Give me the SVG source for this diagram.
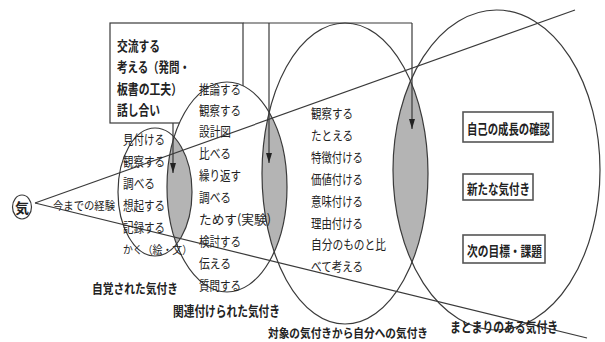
<svg xmlns="http://www.w3.org/2000/svg" width="605" height="342" viewBox="0 0 605 342">
<style>
.t{font-family:"Noto Sans CJK JP","Noto Sans CJK SC",sans-serif;font-size:13px;fill:#222}
.b{font-weight:bold;font-size:13.5px}
.bx{font-size:13.5px;font-weight:bold}
.ln{stroke:#3a3a3a;stroke-width:1.2;fill:none}
.wf{fill:#fff;stroke:none}
.lens{fill:#b4b4b4;stroke:none}
.rb{fill:#fff;stroke:#555;stroke-width:1.6}
</style>
<defs>
<marker id="ah" viewBox="0 0 10 10" refX="10" refY="5" markerWidth="10" markerHeight="6" markerUnits="userSpaceOnUse" orient="auto" preserveAspectRatio="none"><path d="M0,0 L10,5 L0,10 z" fill="#222"/></marker>
<clipPath id="c2"><ellipse cx="227" cy="187" rx="60" ry="105"/></clipPath>
<clipPath id="c3"><ellipse cx="345" cy="173.5" rx="83" ry="150.5"/></clipPath>
<clipPath id="c4"><ellipse cx="496.5" cy="170" rx="103.5" ry="160"/></clipPath>
</defs>
<rect x="0" y="0" width="605" height="342" fill="#fff"/>
<g id="box">
<rect x="110" y="23" width="133" height="100" class="ln"/>
</g>
<g id="fills">
<ellipse cx="496.5" cy="170" rx="103.5" ry="160" class="wf"/>
<ellipse cx="345" cy="173.5" rx="83" ry="150.5" class="wf"/>
<ellipse cx="227" cy="187" rx="60" ry="105" class="wf"/>
<ellipse cx="155" cy="192" rx="37" ry="64" class="wf"/>
<ellipse cx="155" cy="192" rx="37" ry="64" class="lens" clip-path="url(#c2)"/>
<ellipse cx="227" cy="187" rx="60" ry="105" class="lens" clip-path="url(#c3)"/>
<ellipse cx="345" cy="173.5" rx="83" ry="150.5" class="lens" clip-path="url(#c4)"/>
</g>
<g id="ellipse1"><ellipse cx="155" cy="192" rx="37" ry="64" class="ln"/></g>
<g id="ellipse2"><ellipse cx="227" cy="187" rx="60" ry="105" class="ln"/></g>
<g id="ellipse3"><ellipse cx="345" cy="173.5" rx="83" ry="150.5" class="ln"/></g>
<g id="ellipse4"><ellipse cx="496.5" cy="170" rx="103.5" ry="160" class="ln"/></g>
<g id="connectors">
<polyline points="243,23 412,23" class="ln"/>
<line x1="173" y1="123" x2="173" y2="173" class="ln" marker-end="url(#ah)"/>
<line x1="269" y1="23" x2="269" y2="163" class="ln" marker-end="url(#ah)"/>
<line x1="412" y1="23" x2="412" y2="129" class="ln" marker-end="url(#ah)"/>
<line x1="35" y1="203" x2="575" y2="10" class="ln"/>
<line x1="35" y1="203" x2="587" y2="338" class="ln"/>
</g>
<g id="ki">
<ellipse cx="22" cy="207" rx="9.5" ry="12" class="ln"/>
<text x="22" y="212.5" class="t b" text-anchor="middle" style="font-size:14px">気</text>
</g>
<g id="boxtext">
<text x="117" y="51" class="t bx" textLength="43" lengthAdjust="spacingAndGlyphs">交流する</text>
<text x="117" y="72" class="t bx" textLength="73" lengthAdjust="spacingAndGlyphs">考える（発問・</text>
<text x="117" y="94" class="t bx" textLength="65" lengthAdjust="spacingAndGlyphs">板書の工夫）</text>
<text x="117" y="115" class="t bx" textLength="43" lengthAdjust="spacingAndGlyphs">話し合い</text>
</g>
<g id="list1">
<text x="53" y="210" class="t" style="font-size:11.5px" textLength="62" lengthAdjust="spacingAndGlyphs">今までの経験</text>
<text x="123" y="144" class="t" textLength="42" lengthAdjust="spacingAndGlyphs">見付ける</text>
<text x="123" y="166" class="t" textLength="42" lengthAdjust="spacingAndGlyphs">観察する</text>
<text x="123" y="188" class="t" textLength="32" lengthAdjust="spacingAndGlyphs">調べる</text>
<text x="123" y="210" class="t" textLength="42" lengthAdjust="spacingAndGlyphs">想起する</text>
<text x="123" y="232" class="t" textLength="42" lengthAdjust="spacingAndGlyphs">記録する</text>
<text x="123" y="254" class="t" style="font-size:10.8px" textLength="69" lengthAdjust="spacingAndGlyphs">かく（絵・文）</text>
</g>
<g id="list2">
<text x="199" y="94" class="t" textLength="42" lengthAdjust="spacingAndGlyphs">推論する</text>
<text x="199" y="115" class="t" textLength="42" lengthAdjust="spacingAndGlyphs">観察する</text>
<text x="199" y="136" class="t" textLength="32" lengthAdjust="spacingAndGlyphs">設計図</text>
<text x="199" y="158" class="t" textLength="32" lengthAdjust="spacingAndGlyphs">比べる</text>
<text x="199" y="180" class="t" textLength="42" lengthAdjust="spacingAndGlyphs">繰り返す</text>
<text x="199" y="202" class="t" textLength="32" lengthAdjust="spacingAndGlyphs">調べる</text>
<text x="199" y="224" class="t" textLength="72" lengthAdjust="spacingAndGlyphs">ためす(実験)</text>
<text x="199" y="246" class="t" textLength="42" lengthAdjust="spacingAndGlyphs">検討する</text>
<text x="199" y="268" class="t" textLength="32" lengthAdjust="spacingAndGlyphs">伝える</text>
<text x="199" y="290" class="t" textLength="42" lengthAdjust="spacingAndGlyphs">質問する</text>
</g>
<g id="list3">
<text x="311" y="118" class="t" textLength="42" lengthAdjust="spacingAndGlyphs">観察する</text>
<text x="311" y="140" class="t" textLength="42" lengthAdjust="spacingAndGlyphs">たとえる</text>
<text x="311" y="162" class="t" textLength="52" lengthAdjust="spacingAndGlyphs">特徴付ける</text>
<text x="311" y="184" class="t" textLength="52" lengthAdjust="spacingAndGlyphs">価値付ける</text>
<text x="311" y="206" class="t" textLength="52" lengthAdjust="spacingAndGlyphs">意味付ける</text>
<text x="311" y="228" class="t" textLength="52" lengthAdjust="spacingAndGlyphs">理由付ける</text>
<text x="311" y="249" class="t" textLength="75" lengthAdjust="spacingAndGlyphs">自分のものと比</text>
<text x="311" y="271" class="t" textLength="52" lengthAdjust="spacingAndGlyphs">べて考える</text>
</g>
<g id="rbox1"><rect x="463" y="112" width="90" height="30" class="rb"/><text x="467" y="134" class="t b" textLength="83" lengthAdjust="spacingAndGlyphs">自己の成長の確認</text></g>
<g id="rbox2"><rect x="463" y="174" width="70" height="26" class="rb"/><text x="467" y="194" class="t b" textLength="63" lengthAdjust="spacingAndGlyphs">新たな気付き</text></g>
<g id="rbox3"><rect x="463" y="235" width="82" height="28" class="rb"/><text x="467" y="256" class="t b" textLength="75" lengthAdjust="spacingAndGlyphs">次の目標・課題</text></g>
<g id="labels">
<text x="92" y="293" class="t b" style="font-size:13px" textLength="86" lengthAdjust="spacingAndGlyphs">自覚された気付き</text>
<text x="173" y="316" class="t b" textLength="107" lengthAdjust="spacingAndGlyphs">関連付けられた気付き</text>
<text x="268" y="338" class="t b" style="font-size:12px" textLength="160" lengthAdjust="spacingAndGlyphs">対象の気付きから自分への気付き</text>
<text x="450" y="332" class="t b" textLength="108" lengthAdjust="spacingAndGlyphs">まとまりのある気付き</text>
</g>
</svg>
